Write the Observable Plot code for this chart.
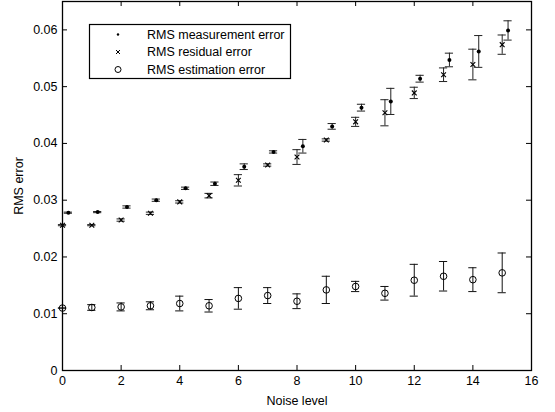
<!DOCTYPE html>
<html><head><meta charset="utf-8">
<script src="https://cdn.jsdelivr.net/npm/d3@7"></script>
<script src="https://cdn.jsdelivr.net/npm/@observablehq/plot@0.6"></script>
<style>body{margin:0;background:#fff}</style>
</head><body><div id="chart"></div>
<script>
const noise = [0,1,2,3,4,5,6,7,8,9,10,11,12,13,14,15];
const measMean = [0.0278,0.0279,0.0288,0.0300,0.0321,0.0329,0.0359,0.0385,0.0395,0.0430,0.0463,0.0474,0.0514,0.0547,0.0562,0.0599];
const measErr  = [0.0001,0.0001,0.0002,0.0002,0.0002,0.0003,0.0005,0.0002,0.0012,0.0005,0.0006,0.0023,0.0006,0.0012,0.0028,0.0017];
const resMean  = [0.0256,0.0256,0.0265,0.0277,0.0297,0.0308,0.0335,0.0362,0.0376,0.0406,0.0438,0.0454,0.0489,0.0521,0.0539,0.0574];
const resErr   = [0.0001,0.0001,0.0002,0.0002,0.0002,0.0004,0.0010,0.0002,0.0013,0.0002,0.0008,0.0023,0.0010,0.0012,0.0027,0.0017];
const estMean  = [0.0110,0.0111,0.0112,0.0114,0.0118,0.0114,0.0127,0.0132,0.0122,0.0142,0.0148,0.0136,0.0159,0.0166,0.0160,0.0172];
const estErr   = [0.0000,0.0005,0.0007,0.0007,0.0013,0.0011,0.0019,0.0014,0.0013,0.0024,0.0009,0.0012,0.0028,0.0026,0.0021,0.0035];
const xTicks = [0,2,4,6,8,10,12,14,16];
const yTicks = [0,0.01,0.02,0.03,0.04,0.05,0.06];
const yTickLabels = ["0","0.01","0.02","0.03","0.04","0.05","0.06"];
const seriesNames = ["RMS measurement error","RMS residual error","RMS estimation error"];
const xLabel = "Noise level";
const yLabel = "RMS error";

const measShift = 0.2;   // measurement points drawn slightly right of their noise level
const capHalf = 0.14;

const build = (mean, err, shift) => noise.map((n, i) => ({x: n + shift, y: mean[i], lo: mean[i] - err[i], hi: mean[i] + err[i]}));
const meas = build(measMean, measErr, measShift);
const res = build(resMean, resErr, 0);
const est = build(estMean, estErr, 0);

const W = 555, H = 412, mL = 62, mR = 24, mT = 1, mB = 42;
const pw = W - mL - mR, ph = H - mT - mB, tk = 5;

function errMarks(rows, stroke) {
  return [
    Plot.ruleX(rows, {x: "x", y1: "lo", y2: "hi", stroke, strokeWidth: 1}),
    Plot.ruleY(rows, {y: "lo", x1: d => d.x - capHalf, x2: d => d.x + capHalf, stroke, strokeWidth: 1}),
    Plot.ruleY(rows, {y: "hi", x1: d => d.x - capHalf, x2: d => d.x + capHalf, stroke, strokeWidth: 1})
  ];
}

const chart = Plot.plot({
  width: W, height: H,
  marginLeft: mL, marginRight: mR, marginTop: mT, marginBottom: mB,
  style: {fontFamily: "'Liberation Sans', Arial, sans-serif", fontSize: "12px", background: "#fff", color: "#000"},
  x: {domain: [0, 16]},
  y: {domain: [0, 0.065]},
  marks: [
    ...errMarks(est, "#111"),
    ...errMarks(res, "#222"),
    ...errMarks(meas, "#222"),
    Plot.dot(est, {x: "x", y: "y", r: 3.3, stroke: "#000", strokeWidth: 1, fill: "none"}),
    Plot.dot(res, {x: "x", y: "y", r: 2.3, symbol: "times", stroke: "#000", strokeWidth: 1.1}),
    Plot.dot(meas, {x: "x", y: "y", r: 2, fill: "#000", stroke: "none"}),
    // inward ticks
    Plot.tickX(xTicks, {x: d => d, insetTop: ph - tk, stroke: "#000"}),
    Plot.tickX(xTicks, {x: d => d, insetBottom: ph - tk, stroke: "#000"}),
    Plot.tickY(yTicks, {y: d => d, insetRight: pw - tk, stroke: "#000"}),
    Plot.tickY(yTicks, {y: d => d, insetLeft: pw - tk, stroke: "#000"}),
    Plot.axisX(xTicks, {anchor: "bottom", tickSize: 0, tickPadding: 6, fontSize: 12.5, label: xLabel, labelAnchor: "center", labelArrow: "none", labelOffset: 34}),
    Plot.axisY(yTicks, {anchor: "left", tickSize: 0, tickPadding: 5, fontSize: 12.5, tickFormat: (d, i) => yTickLabels[i], label: yLabel, labelAnchor: "center", labelArrow: "none", labelOffset: 48}),
    Plot.frame({stroke: "#000", strokeWidth: 1.3})
  ]
});

document.getElementById("chart").appendChild(chart);

// legend box
const svg = d3.select(chart);
const lg = svg.append("g").attr("font-family", "'Liberation Sans', Arial, sans-serif").attr("font-size", 12.5).attr("text-anchor", "start");
lg.append("rect").attr("x", 89.5).attr("y", 24.5).attr("width", 201).attr("height", 54).attr("fill", "#fff").attr("stroke", "#000").attr("stroke-width", 1.2);
const rowsY = [34.5, 52, 69.5];
const mx = 118;
lg.append("circle").attr("cx", mx).attr("cy", rowsY[0]).attr("r", 1.2).attr("fill", "#000");
lg.append("path").attr("d", `M${mx-2},${rowsY[1]-2}L${mx+2},${rowsY[1]+2}M${mx-2},${rowsY[1]+2}L${mx+2},${rowsY[1]-2}`).attr("stroke", "#000").attr("stroke-width", 1);
lg.append("circle").attr("cx", mx).attr("cy", rowsY[2]).attr("r", 3).attr("fill", "none").attr("stroke", "#000");
seriesNames.forEach((s, i) => {
  lg.append("text").attr("x", 147).attr("y", rowsY[i]).attr("dy", "0.35em").attr("text-anchor", "start").attr("fill", "#000").text(s);
});
</script>
</body></html>
